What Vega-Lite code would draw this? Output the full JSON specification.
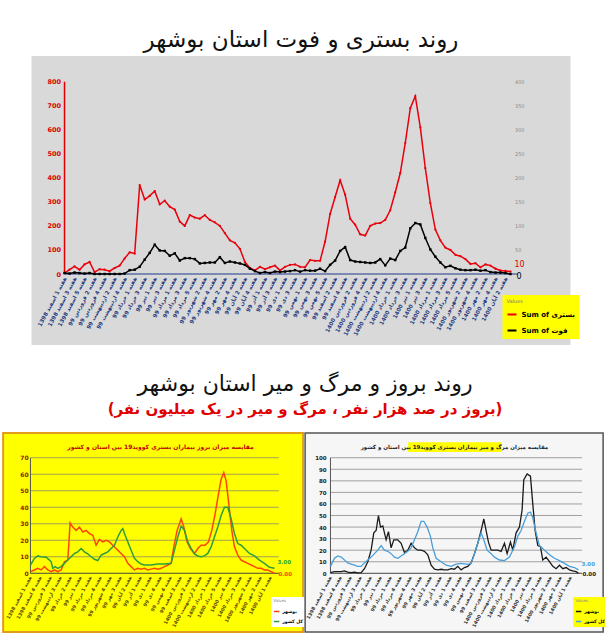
{
"$schema": "https://vega.github.io/schema/vega-lite/v6.json",
"padding": {"left": 2, "top": 29, "right": 0, "bottom": 0},
"background": "#ffffff",
"config": {"font": "DejaVu Sans", "view": {"stroke": null}, "axis": {"labelOverlap": false, "labelSeparation": 0, "domain": false, "ticks": false, "grid": false, "title": null}},
"center": true,
"spacing": 28,
"resolve": {"scale": {"x": "independent", "y": "independent", "color": "independent"}, "legend": {"color": "independent"}},
"vconcat": [
{
 "width": 539, "height": 289,
 "title": {"text": "روند بستری و فوت استان بوشهر", "fontSize": 23, "fontWeight": "normal", "font": "DejaVu Sans", "color": "#111111", "anchor": "middle", "offset": 4},
 "view": {"fill": "#d9d9d9", "stroke": null},
 "data": {"values": [
 {"w":0,"admit":4,"death":2},{"w":1,"admit":18,"death":1},{"w":2,"admit":32,"death":3},{"w":3,"admit":18,"death":2},{"w":4,"admit":40,"death":1},{"w":5,"admit":50,"death":2},{"w":6,"admit":8,"death":0},{"w":7,"admit":20,"death":0},{"w":8,"admit":18,"death":0},{"w":9,"admit":12,"death":0},
 {"w":10,"admit":25,"death":0},{"w":11,"admit":35,"death":0},{"w":12,"admit":65,"death":1},{"w":13,"admit":90,"death":8},{"w":14,"admit":85,"death":9},{"w":15,"admit":370,"death":15},{"w":16,"admit":310,"death":30},{"w":17,"admit":325,"death":44},{"w":18,"admit":345,"death":61},{"w":19,"admit":290,"death":49},
 {"w":20,"admit":305,"death":48},{"w":21,"admit":280,"death":38},{"w":22,"admit":268,"death":43},{"w":23,"admit":218,"death":28},{"w":24,"admit":200,"death":33},{"w":25,"admit":245,"death":33},{"w":26,"admit":235,"death":31},{"w":27,"admit":230,"death":22},{"w":28,"admit":245,"death":23},{"w":29,"admit":225,"death":24},
 {"w":30,"admit":215,"death":24},{"w":31,"admit":200,"death":35},{"w":32,"admit":170,"death":23},{"w":33,"admit":140,"death":26},{"w":34,"admit":130,"death":24},{"w":35,"admit":105,"death":22},{"w":36,"admit":50,"death":19},{"w":37,"admit":25,"death":11},{"w":38,"admit":15,"death":6},{"w":39,"admit":30,"death":2},
 {"w":40,"admit":20,"death":4},{"w":41,"admit":28,"death":2},{"w":42,"admit":35,"death":5},{"w":43,"admit":15,"death":4},{"w":44,"admit":30,"death":5},{"w":45,"admit":38,"death":6},{"w":46,"admit":40,"death":8},{"w":47,"admit":30,"death":5},{"w":48,"admit":28,"death":8},{"w":49,"admit":58,"death":7},
 {"w":50,"admit":55,"death":7},{"w":51,"admit":55,"death":11},{"w":52,"admit":135,"death":6},{"w":53,"admit":250,"death":19},{"w":54,"admit":320,"death":28},{"w":55,"admit":390,"death":48},{"w":56,"admit":330,"death":56},{"w":57,"admit":230,"death":29},{"w":58,"admit":205,"death":26},{"w":59,"admit":165,"death":25},
 {"w":60,"admit":160,"death":24},{"w":61,"admit":200,"death":23},{"w":62,"admit":210,"death":24},{"w":63,"admit":212,"death":31},{"w":64,"admit":225,"death":18},{"w":65,"admit":265,"death":32},{"w":66,"admit":340,"death":29},{"w":67,"admit":420,"death":48},{"w":68,"admit":545,"death":55},{"w":69,"admit":690,"death":95},
 {"w":70,"admit":740,"death":106},{"w":71,"admit":610,"death":103},{"w":72,"admit":440,"death":75},{"w":73,"admit":295,"death":51},{"w":74,"admit":185,"death":36},{"w":75,"admit":140,"death":24},{"w":76,"admit":110,"death":14},{"w":77,"admit":100,"death":17},{"w":78,"admit":80,"death":12},{"w":79,"admit":74,"death":9},
 {"w":80,"admit":62,"death":8},{"w":81,"admit":42,"death":8},{"w":82,"admit":45,"death":9},{"w":83,"admit":28,"death":7},{"w":84,"admit":40,"death":8},{"w":85,"admit":35,"death":4},{"w":86,"admit":22,"death":3},{"w":87,"admit":15,"death":3},{"w":88,"admit":13,"death":2},{"w":89,"admit":10,"death":0}
 ]},
 "layer": [
  {"layer": [
    {"data": {"values": [{}]}, "mark": {"type": "rule", "color": "#e00000", "strokeWidth": 1.5}, "encoding": {"x": {"datum": 0, "type": "quantitative"}, "y": {"datum": 0, "type": "quantitative"}, "y2": {"datum": 800}}},
    {"data": {"values": [{}]}, "mark": {"type": "rule", "color": "#1f3b8c", "strokeWidth": 1.2}, "encoding": {"x": {"datum": 0, "type": "quantitative"}, "x2": {"datum": 90.5}, "y": {"datum": 0, "type": "quantitative"}}},
    {"mark": {"type": "line", "strokeWidth": 1.5, "point": {"filled": true, "size": 5}},
     "encoding": {
      "x": {"field": "w", "type": "quantitative", "scale": {"domain": [-6.59, 100.97], "nice": false, "zero": false},
            "axis": {"values": [0,2,4,6,8,10,12,14,16,18,20,22,24,26,28,30,32,34,36,38,40,42,44,46,48,50,52,54,56,58,60,62,64,66,68,70,72,74,76,78,80,82,84,86,88], "tickCount": 200, "offset": -71, "labelAngle": -62, "labelAlign": "right", "labelBaseline": "middle", "labelFontSize": 5.5, "labelColor": "#1f3a80", "labelFontWeight": "bold", "labelPadding": 3, "labelOverlap": false, "labelBound": false, "labelFlush": false, "domain": false, "ticks": false, "grid": false, "title": null,
            "labelExpr": "'هفته ' + (floor(datum.value - floor(datum.value/4.35)*4.35) + 1) + ' ' + ['فروردین','اردیبهشت','خرداد','تیر','مرداد','شهریور','مهر','آبان','آذر','دی','بهمن','اسفند'][(11 + floor(datum.value/4.35)) % 12] + ' ' + [1398, 99, 1400][floor((11 + floor(datum.value/4.35))/12)]"}},
      "y": {"field": "admit", "type": "quantitative", "scale": {"domain": [-295.3, 906.9], "nice": false, "zero": false},
            "axis": {"values": [0,100,200,300,400,500,600,700,800], "tickCount": 100, "offset": -33, "labelOverlap": false, "labelColor": "#e00000", "labelFontSize": 6.5, "labelFontWeight": "bold", "domain": false, "ticks": false, "grid": false, "title": null, "labelPadding": 4}},
      "color": {"datum": "Sum of بستری", "type": "nominal", "scale": {"domain": ["Sum of بستری", "Sum of فوت"], "range": ["#e8000b", "#000000"]},
            "legend": {"orient": "none", "legendX": 471, "legendY": 239, "fillColor": "#ffff00", "title": "Values", "titleFontSize": 5, "titleColor": "#777777", "titleFontWeight": "normal", "labelFontSize": 7, "labelFontWeight": "bold", "labelColor": "#000000", "symbolType": "stroke", "symbolStrokeWidth": 2, "symbolSize": 80, "padding": 4, "rowPadding": 6}}
     }},
    {"transform": [{"filter": "datum.w == 89"}], "mark": {"type": "text", "color": "#e00000", "align": "left", "dx": 4, "dy": -7, "fontSize": 8}, "encoding": {"x": {"field": "w", "type": "quantitative"}, "y": {"field": "admit", "type": "quantitative"}, "text": {"field": "admit"}}}
  ]},
  {"layer": [
    {"mark": {"type": "line", "strokeWidth": 1.5, "point": {"filled": true, "size": 6, "shape": "square"}},
     "encoding": {
      "x": {"field": "w", "type": "quantitative"},
      "y": {"field": "death", "type": "quantitative", "scale": {"domain": [-147.7, 453.5], "nice": false, "zero": false},
            "axis": {"orient": "right", "values": [50,100,150,200,250,300,350,400], "tickCount": 100, "offset": -60, "labelOverlap": false, "labelColor": "#8c8c8c", "labelFontSize": 5, "domain": false, "ticks": false, "grid": false, "title": null, "labelPadding": 4}},
      "color": {"datum": "Sum of فوت", "type": "nominal"}
     }},
    {"transform": [{"filter": "datum.w == 89"}], "mark": {"type": "text", "color": "#000000", "align": "left", "dx": 6, "dy": 3, "fontSize": 8}, "encoding": {"x": {"field": "w", "type": "quantitative"}, "y": {"field": "death", "type": "quantitative"}, "text": {"field": "death"}}}
  ]}
 ],
 "resolve": {"scale": {"y": "independent"}}
},
{
 "title": {"text": "روند بروز و مرگ و میر استان بوشهر", "subtitle": "(بروز در صد هزار نفر ، مرگ و میر در یک میلیون نفر)", "fontSize": 22, "fontWeight": "normal", "font": "DejaVu Sans", "color": "#111111", "subtitleFont": "DejaVu Sans", "subtitleFontSize": 15, "subtitleFontWeight": "bold", "subtitleColor": "#e00000", "subtitlePadding": 6, "anchor": "middle", "offset": 14},
 "spacing": 2,
 "bounds": "flush",
 "resolve": {"scale": {"x": "independent", "y": "independent", "color": "independent"}, "legend": {"color": "independent"}},
 "hconcat": [
 {
  "width": 300, "height": 199,
  "view": {"fill": "#ffff00", "stroke": "#e39b1b", "strokeWidth": 2},
  "data": {"values": [
   {"s":"بوشهر","t":0,"v":1},{"s":"بوشهر","t":1.2,"v":2},{"s":"بوشهر","t":2.2,"v":3},{"s":"بوشهر","t":3.2,"v":2},{"s":"بوشهر","t":4.2,"v":4},{"s":"بوشهر","t":5.2,"v":2},{"s":"بوشهر","t":6.2,"v":1},{"s":"بوشهر","t":7.2,"v":2},{"s":"بوشهر","t":8.2,"v":1},{"s":"بوشهر","t":9.2,"v":2},
   {"s":"بوشهر","t":10.2,"v":7},{"s":"بوشهر","t":11.2,"v":8},{"s":"بوشهر","t":11.9,"v":30.6},{"s":"بوشهر","t":12.7,"v":28},{"s":"بوشهر","t":13.7,"v":26},{"s":"بوشهر","t":14.7,"v":28},{"s":"بوشهر","t":15.7,"v":25},{"s":"بوشهر","t":16.7,"v":26},{"s":"بوشهر","t":17.7,"v":24},{"s":"بوشهر","t":18.7,"v":23},
   {"s":"بوشهر","t":19.7,"v":17},{"s":"بوشهر","t":20.7,"v":20.5},{"s":"بوشهر","t":21.7,"v":19},{"s":"بوشهر","t":22.7,"v":20},{"s":"بوشهر","t":23.7,"v":19},{"s":"بوشهر","t":24.7,"v":17},{"s":"بوشهر","t":25.7,"v":15},{"s":"بوشهر","t":27.2,"v":12},{"s":"بوشهر","t":28.2,"v":10},{"s":"بوشهر","t":29.2,"v":6},
   {"s":"بوشهر","t":30.2,"v":4},{"s":"بوشهر","t":31.2,"v":2},{"s":"بوشهر","t":32.2,"v":3},{"s":"بوشهر","t":33.2,"v":2.5},{"s":"بوشهر","t":34.2,"v":3},{"s":"بوشهر","t":35.2,"v":2},{"s":"بوشهر","t":36.2,"v":2.5},{"s":"بوشهر","t":37.2,"v":3},{"s":"بوشهر","t":38.2,"v":2.5},{"s":"بوشهر","t":39.2,"v":3},
   {"s":"بوشهر","t":40.2,"v":4},{"s":"بوشهر","t":41.2,"v":5},{"s":"بوشهر","t":42.2,"v":6},{"s":"بوشهر","t":43,"v":16},{"s":"بوشهر","t":44,"v":26},{"s":"بوشهر","t":45.2,"v":33},{"s":"بوشهر","t":46,"v":28},{"s":"بوشهر","t":47,"v":19},{"s":"بوشهر","t":48,"v":15},{"s":"بوشهر","t":49.2,"v":12},
   {"s":"بوشهر","t":50.2,"v":15},{"s":"بوشهر","t":51.2,"v":17},{"s":"بوشهر","t":52.4,"v":17},{"s":"بوشهر","t":53.4,"v":19},{"s":"بوشهر","t":54.4,"v":26},{"s":"بوشهر","t":55.4,"v":36},{"s":"بوشهر","t":56.4,"v":48},{"s":"بوشهر","t":57.2,"v":57},{"s":"بوشهر","t":58,"v":61},{"s":"بوشهر","t":58.7,"v":56},
   {"s":"بوشهر","t":59.5,"v":42},{"s":"بوشهر","t":60.4,"v":26},{"s":"بوشهر","t":61.2,"v":16},{"s":"بوشهر","t":62.2,"v":11},{"s":"بوشهر","t":63.2,"v":8},{"s":"بوشهر","t":64.2,"v":7},{"s":"بوشهر","t":65.2,"v":6},{"s":"بوشهر","t":66.2,"v":5},{"s":"بوشهر","t":67.2,"v":4},{"s":"بوشهر","t":68.2,"v":3},
   {"s":"بوشهر","t":69.2,"v":3},{"s":"بوشهر","t":70.2,"v":2},{"s":"بوشهر","t":71.2,"v":2},{"s":"بوشهر","t":72.2,"v":1},{"s":"بوشهر","t":73.2,"v":0},
   {"s":"کل کشور","t":0,"v":5},{"s":"کل کشور","t":1.2,"v":9},{"s":"کل کشور","t":2.2,"v":10.5},{"s":"کل کشور","t":3.2,"v":10},{"s":"کل کشور","t":4.7,"v":9.7},{"s":"کل کشور","t":5.7,"v":8},{"s":"کل کشور","t":6.2,"v":7},{"s":"کل کشور","t":6.7,"v":3},{"s":"کل کشور","t":7.4,"v":4},{"s":"کل کشور","t":8.2,"v":3},
   {"s":"کل کشور","t":9.2,"v":4},{"s":"کل کشور","t":10.2,"v":6},{"s":"کل کشور","t":11.2,"v":8},{"s":"کل کشور","t":12.2,"v":10},{"s":"کل کشور","t":13.2,"v":12},{"s":"کل کشور","t":14.2,"v":13},{"s":"کل کشور","t":15.2,"v":15},{"s":"کل کشور","t":16.2,"v":13},{"s":"کل کشور","t":17.2,"v":11.7},{"s":"کل کشور","t":18.2,"v":10},
   {"s":"کل کشور","t":19.2,"v":8.5},{"s":"کل کشور","t":20.2,"v":7.7},{"s":"کل کشور","t":21.2,"v":11},{"s":"کل کشور","t":22.2,"v":12},{"s":"کل کشور","t":23.2,"v":13},{"s":"کل کشور","t":24.2,"v":15},{"s":"کل کشور","t":25.2,"v":17},{"s":"کل کشور","t":26.2,"v":22},{"s":"کل کشور","t":27.2,"v":26},{"s":"کل کشور","t":27.7,"v":27},
   {"s":"کل کشور","t":28.4,"v":23},{"s":"کل کشور","t":29.2,"v":19},{"s":"کل کشور","t":30.2,"v":14},{"s":"کل کشور","t":31.2,"v":9},{"s":"کل کشور","t":32.2,"v":7},{"s":"کل کشور","t":33.2,"v":5.6},{"s":"کل کشور","t":34.2,"v":5},{"s":"کل کشور","t":36.2,"v":5},{"s":"کل کشور","t":38.2,"v":5.6},{"s":"کل کشور","t":40.2,"v":5.6},
   {"s":"کل کشور","t":42.2,"v":6},{"s":"کل کشور","t":43.2,"v":14},{"s":"کل کشور","t":44.2,"v":22},{"s":"کل کشور","t":45.2,"v":28.6},{"s":"کل کشور","t":46.2,"v":26},{"s":"کل کشور","t":47.2,"v":19},{"s":"کل کشور","t":48.2,"v":15},{"s":"کل کشور","t":49.2,"v":11.7},{"s":"کل کشور","t":50.2,"v":10.5},{"s":"کل کشور","t":51.2,"v":10},
   {"s":"کل کشور","t":52.2,"v":10.5},{"s":"کل کشور","t":53.2,"v":12},{"s":"کل کشور","t":54.2,"v":16},{"s":"کل کشور","t":55.2,"v":22},{"s":"کل کشور","t":56.2,"v":28},{"s":"کل کشور","t":57.2,"v":35},{"s":"کل کشور","t":58.2,"v":40},{"s":"کل کشور","t":59.2,"v":40},{"s":"کل کشور","t":60.2,"v":33},{"s":"کل کشور","t":61.2,"v":24},
   {"s":"کل کشور","t":62.2,"v":18},{"s":"کل کشور","t":63.2,"v":17},{"s":"کل کشور","t":64.2,"v":15},{"s":"کل کشور","t":65.7,"v":12},{"s":"کل کشور","t":67.2,"v":10.5},{"s":"کل کشور","t":68.7,"v":8},{"s":"کل کشور","t":70.2,"v":6},{"s":"کل کشور","t":71.7,"v":3.6},{"s":"کل کشور","t":73.2,"v":3}
  ]},
  "layer": [
   {"data": {"values": [{"g":10},{"g":20},{"g":30},{"g":40},{"g":50},{"g":60},{"g":70}]}, "mark": {"type": "rule", "color": "#8a8a6a", "strokeWidth": 0.8}, "encoding": {"y": {"field": "g", "type": "quantitative"}, "x": {"datum": 0, "type": "quantitative"}, "x2": {"datum": 74.5}}},
   {"data": {"values": [{}]}, "mark": {"type": "rule", "color": "#555555", "strokeWidth": 1}, "encoding": {"x": {"datum": 0, "type": "quantitative"}, "y": {"datum": 0, "type": "quantitative"}, "y2": {"datum": 70}}},
   {"data": {"values": [{}]}, "mark": {"type": "rule", "color": "#444444", "strokeWidth": 1}, "encoding": {"x": {"datum": 0, "type": "quantitative"}, "x2": {"datum": 74.5}, "y": {"datum": 0, "type": "quantitative"}}},
   {"mark": {"type": "line", "strokeWidth": 1.5},
    "encoding": {
     "x": {"field": "t", "type": "quantitative", "scale": {"domain": [-8.2, 81.8], "nice": false, "zero": false},
           "axis": {"values": [0,3,6,9,12,15,18,21,24,27,30,33,36,39,42,45,48,51,54,57,60,63,66,69,72], "tickCount": 200, "offset": -58.7, "labelAngle": -62, "labelAlign": "right", "labelBaseline": "middle", "labelFontSize": 4.8, "labelColor": "#5c4a00", "labelFontWeight": "bold", "labelPadding": 3, "labelOverlap": false, "labelBound": false, "labelFlush": false, "domain": false, "ticks": false, "grid": false, "title": null,
           "labelExpr": "'هفته ' + (floor(datum.value*1.216 - floor(datum.value*0.2795)*4.35) + 1) + ' ' + ['فروردین','اردیبهشت','خرداد','تیر','مرداد','شهریور','مهر','آبان','آذر','دی','بهمن','اسفند'][(11 + floor(datum.value*0.2795)) % 12] + ' ' + [1398, 99, 1400][floor((11 + floor(datum.value*0.2795))/12)]"}},
     "y": {"field": "v", "type": "quantitative", "scale": {"domain": [-35.6, 85], "nice": false, "zero": false},
           "axis": {"values": [0,10,20,30,40,50,60,70], "tickCount": 100, "offset": -28, "labelOverlap": false, "labelColor": "#8b2500", "labelFontSize": 6, "labelFontWeight": "bold", "domain": false, "ticks": false, "grid": false, "title": null, "labelPadding": 3}},
     "color": {"field": "s", "type": "nominal", "scale": {"domain": ["بوشهر", "کل کشور"], "range": ["#ff4500", "#2e9e3a"]},
           "legend": {"orient": "none", "legendX": 268, "legendY": 164, "fillColor": "#ffffff", "title": "Values", "titleFontSize": 4, "titleColor": "#888888", "titleFontWeight": "normal", "labelFontSize": 4.5, "labelFontWeight": "bold", "labelColor": "#000000", "symbolType": "stroke", "symbolStrokeWidth": 1.5, "symbolSize": 30, "padding": 2, "rowPadding": 3, "labelOffset": 2}}
    }},
   {"transform": [{"filter": "datum.t == 73.2 && datum.s == 'کل کشور'"}], "mark": {"type": "text", "color": "#2e9e3a", "align": "left", "dx": 3, "dy": -6, "fontSize": 5.5, "fontWeight": "bold"}, "encoding": {"x": {"field": "t", "type": "quantitative"}, "y": {"field": "v", "type": "quantitative"}, "text": {"field": "v", "format": ".2f"}}},
   {"transform": [{"filter": "datum.t == 73.2 && datum.s == 'بوشهر'"}], "mark": {"type": "text", "color": "#ff4500", "align": "left", "dx": 4, "dy": 1, "fontSize": 5.5, "fontWeight": "bold"}, "encoding": {"x": {"field": "t", "type": "quantitative"}, "y": {"field": "v", "type": "quantitative"}, "text": {"field": "v", "format": ".2f"}}},
   {"data": {"values": [{}]}, "mark": {"type": "text", "text": "مقایسه میزان بروز بیماران بستری کووید19 بین استان و کشور", "fontSize": 6, "fontWeight": "bold", "color": "#c00000"}, "encoding": {"x": {"datum": 39, "type": "quantitative"}, "y": {"datum": 76.5, "type": "quantitative"}}}
  ]
 },
 {
  "width": 298, "height": 199,
  "view": {"fill": "#f6f6f6", "stroke": "#555555", "strokeWidth": 1.5},
  "data": {"values": [
   {"s":"بوشهر","t":0,"v":0.6},{"s":"بوشهر","t":1.2,"v":1.4},{"s":"بوشهر","t":3.2,"v":1.4},{"s":"بوشهر","t":4.2,"v":2},{"s":"بوشهر","t":5.2,"v":1},{"s":"بوشهر","t":6.2,"v":0.6},{"s":"بوشهر","t":7.2,"v":1},{"s":"بوشهر","t":8.2,"v":0.3},{"s":"بوشهر","t":9.2,"v":0.6},{"s":"بوشهر","t":10.2,"v":4},
   {"s":"بوشهر","t":11.2,"v":10},{"s":"بوشهر","t":12.2,"v":20},{"s":"بوشهر","t":13,"v":35},{"s":"بوشهر","t":13.7,"v":37},{"s":"بوشهر","t":14.4,"v":50},{"s":"بوشهر","t":15,"v":40},{"s":"بوشهر","t":15.7,"v":41},{"s":"بوشهر","t":16.7,"v":29},{"s":"بوشهر","t":17.4,"v":36},{"s":"بوشهر","t":18.2,"v":22},
   {"s":"بوشهر","t":19,"v":29},{"s":"بوشهر","t":20.2,"v":29},{"s":"بوشهر","t":21.2,"v":26},{"s":"بوشهر","t":22.2,"v":18},{"s":"بوشهر","t":23.2,"v":20},{"s":"بوشهر","t":24.2,"v":26},{"s":"بوشهر","t":25.2,"v":22},{"s":"بوشهر","t":26.2,"v":20},{"s":"بوشهر","t":27.2,"v":20},{"s":"بوشهر","t":28.2,"v":19},
   {"s":"بوشهر","t":29.2,"v":16},{"s":"بوشهر","t":30.2,"v":7},{"s":"بوشهر","t":31.2,"v":3.5},{"s":"بوشهر","t":32.2,"v":3},{"s":"بوشهر","t":33.2,"v":3.5},{"s":"بوشهر","t":34.2,"v":3},{"s":"بوشهر","t":35.2,"v":3},{"s":"بوشهر","t":36.2,"v":4},{"s":"بوشهر","t":37.2,"v":3.5},{"s":"بوشهر","t":38.2,"v":6},
   {"s":"بوشهر","t":39.2,"v":3},{"s":"بوشهر","t":40.2,"v":5},{"s":"بوشهر","t":41.2,"v":6},{"s":"بوشهر","t":42.2,"v":9},{"s":"بوشهر","t":43.2,"v":17},{"s":"بوشهر","t":44.2,"v":26},{"s":"بوشهر","t":45.2,"v":37},{"s":"بوشهر","t":46,"v":47},{"s":"بوشهر","t":46.7,"v":37},{"s":"بوشهر","t":47.4,"v":27},
   {"s":"بوشهر","t":48.2,"v":20},{"s":"بوشهر","t":49.2,"v":20},{"s":"بوشهر","t":50.2,"v":20},{"s":"بوشهر","t":51.2,"v":19},{"s":"بوشهر","t":52.2,"v":26},{"s":"بوشهر","t":53,"v":17},{"s":"بوشهر","t":54,"v":27},{"s":"بوشهر","t":54.7,"v":20},{"s":"بوشهر","t":55.7,"v":35},{"s":"بوشهر","t":56.7,"v":40},
   {"s":"بوشهر","t":57.5,"v":55},{"s":"بوشهر","t":58,"v":81},{"s":"بوشهر","t":59,"v":86},{"s":"بوشهر","t":60,"v":84},{"s":"بوشهر","t":60.7,"v":60},{"s":"بوشهر","t":61.4,"v":37},{"s":"بوشهر","t":62.2,"v":24},{"s":"بوشهر","t":63,"v":23},{"s":"بوشهر","t":63.7,"v":11.5},{"s":"بوشهر","t":64.7,"v":14},
   {"s":"بوشهر","t":65.7,"v":10},{"s":"بوشهر","t":66.7,"v":6},{"s":"بوشهر","t":67.7,"v":4},{"s":"بوشهر","t":68.7,"v":7},{"s":"بوشهر","t":69.7,"v":4},{"s":"بوشهر","t":70.7,"v":5},{"s":"بوشهر","t":71.7,"v":3},{"s":"بوشهر","t":72.7,"v":2},{"s":"بوشهر","t":73.7,"v":1.4},{"s":"بوشهر","t":74.4,"v":0},
   {"s":"کل کشور","t":0,"v":6},{"s":"کل کشور","t":1.2,"v":13},{"s":"کل کشور","t":2.2,"v":15},{"s":"کل کشور","t":3.2,"v":14},{"s":"کل کشور","t":4.2,"v":11.5},{"s":"کل کشور","t":5.2,"v":9},{"s":"کل کشور","t":6.2,"v":8},{"s":"کل کشور","t":7.2,"v":7},{"s":"کل کشور","t":8.2,"v":6},{"s":"کل کشور","t":9.2,"v":6},
   {"s":"کل کشور","t":10.2,"v":9},{"s":"کل کشور","t":11.2,"v":11.5},{"s":"کل کشور","t":12.2,"v":14},{"s":"کل کشور","t":13.2,"v":17},{"s":"کل کشور","t":14.2,"v":20},{"s":"کل کشور","t":15.2,"v":24},{"s":"کل کشور","t":16.2,"v":20},{"s":"کل کشور","t":17.2,"v":19},{"s":"کل کشور","t":18.2,"v":17},{"s":"کل کشور","t":19.2,"v":14},
   {"s":"کل کشور","t":20.2,"v":13},{"s":"کل کشور","t":21.2,"v":15},{"s":"کل کشور","t":22.2,"v":17},{"s":"کل کشور","t":23.2,"v":19},{"s":"کل کشور","t":24.2,"v":22},{"s":"کل کشور","t":25.2,"v":29},{"s":"کل کشور","t":26.2,"v":36},{"s":"کل کشور","t":27.2,"v":45},{"s":"کل کشور","t":28,"v":45},{"s":"کل کشور","t":29,"v":40},
   {"s":"کل کشور","t":30,"v":32},{"s":"کل کشور","t":30.7,"v":22},{"s":"کل کشور","t":31.7,"v":13},{"s":"کل کشور","t":33.2,"v":10},{"s":"کل کشور","t":34.7,"v":7},{"s":"کل کشور","t":36.2,"v":6},{"s":"کل کشور","t":37.7,"v":8},{"s":"کل کشور","t":39.2,"v":8.6},{"s":"کل کشور","t":41.2,"v":7.8},{"s":"کل کشور","t":42.2,"v":8.6},
   {"s":"کل کشور","t":43.2,"v":17},{"s":"کل کشور","t":44.2,"v":26},{"s":"کل کشور","t":45.2,"v":35},{"s":"کل کشور","t":46,"v":29},{"s":"کل کشور","t":47,"v":20},{"s":"کل کشور","t":48.2,"v":17},{"s":"کل کشور","t":49.2,"v":14},{"s":"کل کشور","t":50.7,"v":11.5},{"s":"کل کشور","t":52.2,"v":11},{"s":"کل کشور","t":53.7,"v":14},
   {"s":"کل کشور","t":55.2,"v":23},{"s":"کل کشور","t":56.2,"v":32},{"s":"کل کشور","t":57.2,"v":37},{"s":"کل کشور","t":58.2,"v":45},{"s":"کل کشور","t":59.2,"v":52},{"s":"کل کشور","t":60,"v":53},{"s":"کل کشور","t":60.7,"v":48},{"s":"کل کشور","t":61.7,"v":35},{"s":"کل کشور","t":62.7,"v":24},{"s":"کل کشور","t":64.2,"v":20},
   {"s":"کل کشور","t":65.7,"v":16},{"s":"کل کشور","t":67.2,"v":13},{"s":"کل کشور","t":68.7,"v":11},{"s":"کل کشور","t":70.2,"v":8.6},{"s":"کل کشور","t":71.7,"v":6},{"s":"کل کشور","t":73.2,"v":5},{"s":"کل کشور","t":74.4,"v":3}
  ]},
  "layer": [
   {"data": {"values": [{"g":10},{"g":20},{"g":30},{"g":40},{"g":50},{"g":60},{"g":70},{"g":80},{"g":90},{"g":100}]}, "mark": {"type": "rule", "color": "#8c8c8c", "strokeWidth": 0.8}, "encoding": {"y": {"field": "g", "type": "quantitative"}, "x": {"datum": 0, "type": "quantitative"}, "x2": {"datum": 75.5}}},
   {"data": {"values": [{}]}, "mark": {"type": "rule", "color": "#555555", "strokeWidth": 1}, "encoding": {"x": {"datum": 0, "type": "quantitative"}, "y": {"datum": 0, "type": "quantitative"}, "y2": {"datum": 100}}},
   {"data": {"values": [{}]}, "mark": {"type": "rule", "color": "#444444", "strokeWidth": 1}, "encoding": {"x": {"datum": 0, "type": "quantitative"}, "x2": {"datum": 75.5}, "y": {"datum": 0, "type": "quantitative"}}},
   {"data": {"values": [{}]}, "mark": {"type": "rect", "color": "#ffff00"}, "encoding": {"x": {"datum": 23.3, "type": "quantitative"}, "x2": {"datum": 51.2}, "y": {"datum": 105, "type": "quantitative"}, "y2": {"datum": 113.5}}},
   {"mark": {"type": "line", "strokeWidth": 1.3},
    "encoding": {
     "x": {"field": "t", "type": "quantitative", "scale": {"domain": [-7.6, 81.8], "nice": false, "zero": false},
           "axis": {"values": [0,3,6,9,12,15,18,21,24,27,30,33,36,39,42,45,48,51,54,57,60,63,66,69,72], "tickCount": 200, "offset": -58.7, "labelAngle": -62, "labelAlign": "right", "labelBaseline": "middle", "labelFontSize": 4.8, "labelColor": "#333333", "labelFontWeight": "bold", "labelPadding": 3, "labelOverlap": false, "labelBound": false, "labelFlush": false, "domain": false, "ticks": false, "grid": false, "title": null,
           "labelExpr": "'هفته ' + (floor(datum.value*1.216 - floor(datum.value*0.2795)*4.35) + 1) + ' ' + ['فروردین','اردیبهشت','خرداد','تیر','مرداد','شهریور','مهر','آبان','آذر','دی','بهمن','اسفند'][(11 + floor(datum.value*0.2795)) % 12] + ' ' + [1398, 99, 1400][floor((11 + floor(datum.value*0.2795))/12)]"}},
     "y": {"field": "v", "type": "quantitative", "scale": {"domain": [-50.8, 121.4], "nice": false, "zero": false},
           "axis": {"values": [0,10,20,30,40,50,60,70,80,90,100], "tickCount": 100, "offset": -24, "labelOverlap": false, "labelColor": "#222222", "labelFontSize": 5.5, "labelFontWeight": "bold", "domain": false, "ticks": false, "grid": false, "title": null, "labelPadding": 3}},
     "color": {"field": "s", "type": "nominal", "scale": {"domain": ["بوشهر", "کل کشور"], "range": ["#1a1a1a", "#4a9fd8"]},
           "legend": {"orient": "none", "legendX": 268, "legendY": 164, "fillColor": "#ffff00", "title": "Values", "titleFontSize": 4, "titleColor": "#888888", "titleFontWeight": "normal", "labelFontSize": 4.5, "labelFontWeight": "bold", "labelColor": "#000000", "symbolType": "stroke", "symbolStrokeWidth": 1.5, "symbolSize": 30, "padding": 2, "rowPadding": 3, "labelOffset": 2}}
    }},
   {"transform": [{"filter": "datum.t == 74.4 && datum.s == 'کل کشور'"}], "mark": {"type": "text", "color": "#4a9fd8", "align": "left", "dx": 3, "dy": -6, "fontSize": 5.5, "fontWeight": "bold"}, "encoding": {"x": {"field": "t", "type": "quantitative"}, "y": {"field": "v", "type": "quantitative"}, "text": {"field": "v", "format": ".2f"}}},
   {"transform": [{"filter": "datum.t == 74.4 && datum.s == 'بوشهر'"}], "mark": {"type": "text", "color": "#1a1a1a", "align": "left", "dx": 4, "dy": 1, "fontSize": 5.5, "fontWeight": "bold"}, "encoding": {"x": {"field": "t", "type": "quantitative"}, "y": {"field": "v", "type": "quantitative"}, "text": {"field": "v", "format": ".2f"}}},
   {"data": {"values": [{}]}, "mark": {"type": "text", "text": "مقایسه میزان مرگ و میر بیماران بستری کووید19 بین استان و کشور", "fontSize": 5.5, "fontWeight": "bold", "color": "#222222"}, "encoding": {"x": {"datum": 37.2, "type": "quantitative"}, "y": {"datum": 109.3, "type": "quantitative"}}}
  ]
 }
 ]
}
]
}
